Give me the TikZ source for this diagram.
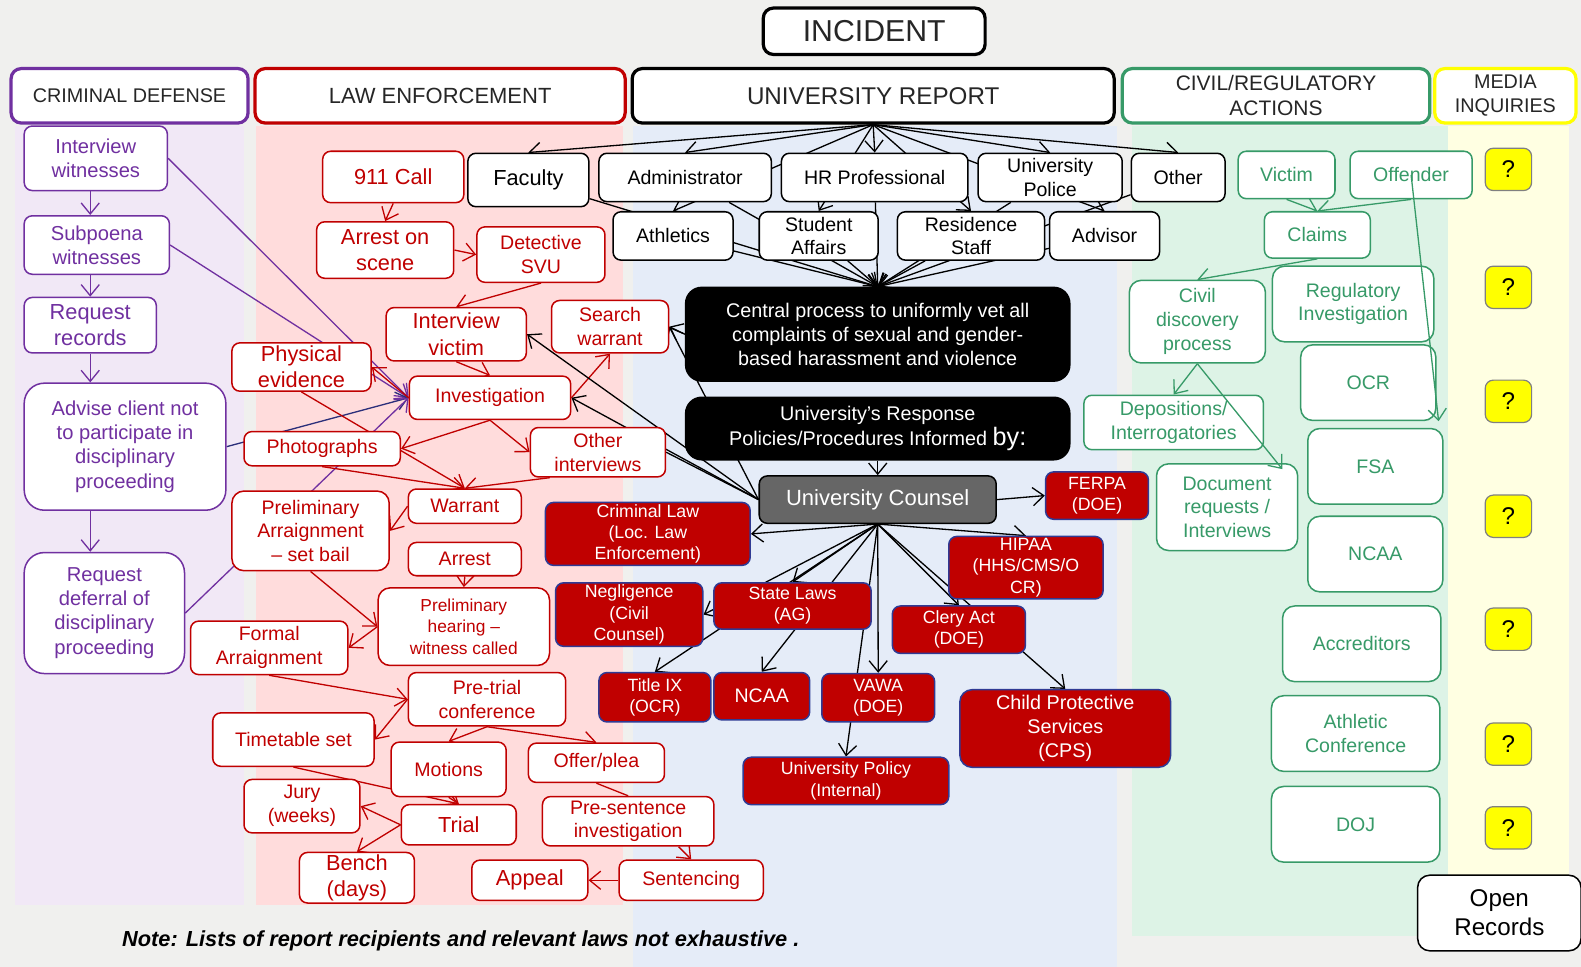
\documentclass[tikz,border=0pt]{standalone}
\usepackage{fontspec}
\setmainfont{Liberation Sans}
\usetikzlibrary{arrows.meta}

\definecolor{pagegray}{HTML}{F0F0EE}
\definecolor{cdpurple}{HTML}{7030A0}
\definecolor{cdnavy}{HTML}{2B2F7A}
\definecolor{lered}{HTML}{C00000}
\definecolor{lawred}{HTML}{C00000}
\definecolor{lawblue}{HTML}{2F3A94}
\definecolor{crgreen}{HTML}{379A68}
\definecolor{ucgray}{HTML}{666666}
\definecolor{cdback}{HTML}{F1E8F6}
\definecolor{leback}{HTML}{FFDCDC}
\definecolor{urback}{HTML}{E5ECF8}
\definecolor{crback}{HTML}{DDF3E6}
\definecolor{miback}{HTML}{FFFFE2}
\definecolor{hdyellow}{HTML}{FFFF00}

\pgfdeclarelayer{bg}
\pgfdeclarelayer{edges}
\pgfsetlayers{bg,edges,main}

\tikzset{
  sz/.style 2 args={minimum width=#1*0.5pt, minimum height=#2*0.5pt},
  box/.style={draw, fill=white, rounded corners=4pt, line width=0.75pt,
    align=center, inner sep=1pt, font=\fontsize{9.7}{11.8}\selectfont},
  header/.style={box, line width=1.6pt, rounded corners=5pt, text=black!85},
  cdbox/.style={box, draw=cdpurple, text=cdpurple, font=\fontsize{10}{12}\selectfont},
  lebox/.style={box, draw=lered, text=lered},
  urbox/.style={box, draw=black, text=black},
  blackbox/.style={box, fill=black, text=white, rounded corners=8pt, font=\fontsize{9.8}{12}\selectfont},
  lawbox/.style={box, fill=lawred, draw=lawblue, text=white, font=\fontsize{8.8}{10.5}\selectfont},
  crbox/.style={box, draw=crgreen, text=crgreen},
  qbox/.style={box, fill=hdyellow, draw=gray, line width=0.6pt, font=\fontsize{12}{14}\selectfont},
  big/.style={font=\fontsize{10.8}{13}\selectfont},
  cdline/.style={draw=cdpurple, line width=0.65pt},
  leline/.style={draw=lered, line width=0.65pt},
  urline/.style={draw=black, line width=0.65pt},
  crline/.style={draw=crgreen, line width=0.65pt},
}

\begin{document}
\begin{tikzpicture}[x=0.5pt, y=-0.5pt, >={Straight Barb[length=5.5pt,width=9pt]}]

% column backgrounds
\begin{pgfonlayer}{bg}
  \fill[pagegray] (0,0) rectangle (1568,959);
  \fill[cdback] (15,125) rectangle (242,898);
  \fill[leback] (254,125) rectangle (618,898);
  \fill[urback] (628,125) rectangle (1108,959);
  \fill[crback] (1123,125) rectangle (1436,928);
  \fill[miback] (1436,125) rectangle (1556,935);
\end{pgfonlayer}
\useasboundingbox (0,0) rectangle (1568,959);

% headers
\node[header, sz={220}{46}, font=\fontsize{15}{18}\selectfont] (incident) at (867,31) {INCIDENT};
\node[header, sz={235}{54}, draw=cdpurple, font=\fontsize{9.8}{12}\selectfont] (hdCD) at (128.5,95) {CRIMINAL DEFENSE};
\node[header, sz={367}{54}, draw=lered, font=\fontsize{10.9}{13}\selectfont] (hdLE) at (436.5,95) {LAW ENFORCEMENT};
\node[header, sz={478}{54}, font=\fontsize{12}{14}\selectfont] (hdUR) at (866,95) {UNIVERSITY REPORT};
\node[header, sz={305}{54}, draw=crgreen, font=\fontsize{10.4}{12.5}\selectfont] (hdCR) at (1265.5,95) {CIVIL/REGULATORY\\ACTIONS};
\node[header, sz={140}{54}, draw=hdyellow, font=\fontsize{9.8}{12}\selectfont] (hdMI) at (1493,95) {MEDIA\\INQUIRIES};

% criminal defense
\node[cdbox, sz={142}{64}] (cdIW) at (95,157) {Interview\\witnesses};
\node[cdbox, sz={144}{58}] (cdSW) at (96,243) {Subpoena\\witnesses};
\node[cdbox, sz={131}{55}, font=\fontsize{10.8}{13}\selectfont] (cdRR) at (89.5,322.5) {Request\\records};
\node[cdbox, sz={200}{126}, rounded corners=10pt] (cdAC) at (124,443) {Advise client not\\to participate in\\disciplinary\\proceeding};
\node[cdbox, sz={159}{120}, rounded corners=10pt] (cdRD) at (103.5,608) {Request\\deferral of\\disciplinary\\proceeding};

% law enforcement
\node[lebox, big, sz={140}{51}] (le911) at (390,175.5) {911 Call};
\node[lebox, big, sz={136}{56}] (leAS) at (382,248) {Arrest on\\scene};
\node[lebox, sz={127}{55}] (leDS) at (536.5,252.5) {Detective\\SVU};
\node[lebox, big, sz={139}{53}] (leIV) at (452.5,331.5) {Interview\\victim};
\node[lebox, sz={116}{52}] (leSW) at (605,324) {Search\\warrant};
\node[lebox, big, sz={138}{48}] (lePE) at (299,364) {Physical\\evidence};
\node[lebox, sz={160}{43}] (leIN) at (486,394.5) {Investigation};
\node[lebox, sz={155}{34}] (lePH) at (319.5,445) {Photographs};
\node[lebox, sz={134}{49}] (leOI) at (593,448.5) {Other\\interviews};
\node[lebox, sz={156}{79}, rounded corners=6pt] (lePA) at (308,526.5) {Preliminary\\Arraignment\\-- set bail};
\node[lebox, sz={112}{34}] (leWA) at (461,502) {Warrant};
\node[lebox, sz={112}{33}] (leAR) at (461,554.5) {Arrest};
\node[lebox, sz={170}{77}, rounded corners=6pt, font=\fontsize{8.6}{10.6}\selectfont] (lePHW) at (460,621.5) {Preliminary\\hearing --\\witness called};
\node[lebox, sz={156}{53}] (leFA) at (267,642.5) {Formal\\Arraignment};
\node[lebox, sz={156}{53}] (lePT) at (483,693.5) {Pre-trial\\conference};
\node[lebox, sz={160}{53}] (leTS) at (291,733.5) {Timetable set};
\node[lebox, sz={114}{54}] (leMO) at (445,763) {Motions};
\node[lebox, sz={135}{39}] (leOP) at (591.5,756.5) {Offer/plea};
\node[lebox, sz={115}{53}] (leJU) at (299.5,799.5) {Jury\\(weeks)};
\node[lebox, big, sz={114}{40}] (leTR) at (455,818) {Trial};
\node[lebox, sz={170}{49}] (lePS) at (623,814.5) {Pre-sentence\\investigation};
\node[lebox, big, sz={114}{45}] (leBE) at (354,870.5) {Bench\\(days)};
\node[lebox, big, sz={115}{40}] (leAP) at (525.5,873) {Appeal};
\node[lebox, sz={143}{40}] (leSE) at (685.5,873) {Sentencing};

% university report recipients
\node[urbox, big, sz={120}{53}] (urFA) at (524,178.5) {Faculty};
\node[urbox, sz={171}{48}] (urAD) at (679.5,176) {Administrator};
\node[urbox, sz={185}{48}] (urHR) at (867.5,176) {HR Professional};
\node[urbox, sz={143}{48}] (urUP) at (1041.5,176) {University\\Police};
\node[urbox, sz={93}{48}] (urOT) at (1168.5,176) {Other};
\node[urbox, sz={119}{48}] (urAT) at (667.5,234) {Athletics};
\node[urbox, sz={118}{48}] (urSA) at (812,234) {Student\\Affairs};
\node[urbox, sz={146}{48}] (urRS) at (963,234) {Residence\\Staff};
\node[urbox, sz={109}{48}] (urAV) at (1095.5,234) {Advisor};

\node[blackbox, sz={381}{93}] (central) at (870.5,331.5) {Central process to uniformly vet all\\complaints of sexual and gender-\\based harassment and violence};
\node[blackbox, sz={381}{62}] (response) at (870.5,425) {University's Response\\Policies/Procedures Informed {\fontsize{12.5}{12}\selectfont by:}};
\node[box, fill=ucgray, text=white, sz={235}{47}, font=\fontsize{10.9}{13}\selectfont] (counsel) at (870.5,495.5) {University Counsel};

% relevant laws
\node[lawbox, sz={102}{47}] (lwFE) at (1088,491.5) {FERPA\\(DOE)};
\node[lawbox, sz={203}{61}] (lwCL) at (642.5,529.5) {Criminal Law\\(Loc. Law\\Enforcement)};
\node[lawbox, sz={153}{62}] (lwHI) at (1017.5,563) {HIPAA\\(HHS/CMS/O\\CR)};
\node[lawbox, sz={146}{63}] (lwNE) at (624,609.5) {Negligence\\(Civil\\Counsel)};
\node[lawbox, sz={156}{46}] (lwSL) at (786,601) {State Laws\\(AG)};
\node[lawbox, sz={132}{47}] (lwCA) at (951,624.5) {Clery Act\\(DOE)};
\node[lawbox, sz={111}{49}] (lwT9) at (649.5,691.5) {Title IX\\(OCR)};
\node[lawbox, sz={95}{47}, font=\fontsize{9.7}{11.8}\selectfont] (lwNC) at (755.5,690.5) {NCAA};
\node[lawbox, sz={112}{48}] (lwVA) at (871,692) {VAWA\\(DOE)};
\node[lawbox, sz={209}{77}, rounded corners=6pt, font=\fontsize{9.8}{11.8}\selectfont] (lwCP) at (1056.5,722.5) {Child Protective\\Services\\(CPS)};
\node[lawbox, sz={204}{47}] (lwUP) at (839,774.5) {University Policy\\(Internal)};

% civil / regulatory
\node[crbox, sz={96}{47}] (crVI) at (1276,173.5) {Victim};
\node[crbox, sz={121}{47}] (crOF) at (1399.5,173.5) {Offender};
\node[crbox, sz={105}{46}] (crCL) at (1306.5,233) {Claims};
\node[crbox, sz={135}{82}, rounded corners=6pt] (crCD) at (1187.5,319) {Civil\\discovery\\process};
\node[crbox, sz={160}{75}, rounded corners=6pt] (crRI) at (1342,301.5) {Regulatory\\Investigation};
\node[crbox, sz={134}{75}, rounded corners=6pt] (crOC) at (1357,379.5) {OCR};
\node[crbox, sz={178}{54}] (crDI) at (1164,419) {Depositions/\\Interrogatories};
\node[crbox, sz={134}{75}, rounded corners=6pt] (crFS) at (1364,462.5) {FSA};
\node[crbox, sz={140}{86}, rounded corners=6pt] (crDR) at (1217,503) {Document\\requests /\\Interviews};
\node[crbox, sz={134}{75}, rounded corners=6pt] (crNC) at (1364,549.5) {NCAA};
\node[crbox, sz={157}{75}, rounded corners=6pt] (crAC) at (1350.5,638.5) {Accreditors};
\node[crbox, sz={167}{75}, rounded corners=6pt] (crAT) at (1344.5,727.5) {Athletic\\Conference};
\node[crbox, sz={167}{75}, rounded corners=6pt] (crDO) at (1344.5,817.5) {DOJ};

% media inquiries
\foreach \y [count=\i] in {168,285,398,512,624,738,821}
  \node[qbox, sz={46}{42}] (q\i) at (1496,\y) {?};
\node[box, sz={162}{75}, rounded corners=6pt, font=\fontsize{12}{14.5}\selectfont] (openrec) at (1487,905.5) {Open\\Records};

\node[font=\fontsize{10.8}{13}\selectfont\bfseries\itshape] (note) at (457,933) {Note: Lists of report recipients and relevant laws not exhaustive .};

\begin{pgfonlayer}{edges}
  % criminal defense
  \draw[cdline,->] (cdIW.south -| cdRR) -- (cdSW.north -| cdRR);
  \draw[cdline,->] (cdSW.south -| cdRR) -- (cdRR.north);
  \draw[cdline,->] (cdRR.south) -- (cdAC.north -| cdRR);
  \draw[cdline,->] (cdAC.south -| cdRR) -- (cdRD.north -| cdRR);
  \draw[cdline,->] (cdIW.east) -- (leIN.west);
  \draw[cdline,->] (cdSW.east) -- (leIN.west);
  \draw[cdline,draw=cdnavy,->] (cdAC.east) -- (leIN.west);
  \draw[cdline,->] (cdRD.east) -- (leIN.west);

  % law enforcement
  \draw[leline,->] (le911.south) -- (leAS.north);
  \draw[leline,->] (leAS.east) -- (leDS.west);
  \draw[leline,->] (leDS.south) -- (leIV.north);
  \draw[leline,->] (leIV.south) -- (leIN.north);
  \draw[leline,->] (leIN.east) -- (leSW.south);
  \draw[leline,->] (leIN.west) -- (lePE.east);
  \draw[leline,->] (leIN.south) -- (lePH.east);
  \draw[leline,->] (leIN.south) -- (leOI.west);
  \draw[leline,->] (lePE.south) -- (leWA.north);
  \draw[leline,->] (lePH.south) -- (leWA.north);
  \draw[leline,->] ([xshift=10pt]leOI.south west) -- (leWA.north);
  \draw[leline,->] (leWA.west) -- (lePA.east);
  \draw[leline,->] (leAR.south) -- (lePHW.north);
  \draw[leline,->] (lePA.south) -- (lePHW.west);
  \draw[leline,->] (lePHW.west) -- (leFA.east);
  \draw[leline,->] (leFA.south) -- (lePT.west);
  \draw[leline,->] (lePT.west) -- (leTS.east);
  \draw[leline,->] (lePT.south) -- (leMO.north);
  \draw[leline,->] (lePT.south) -- (leOP.north);
  \draw[leline,->] (leTS.south) -- (leTR.north);
  \draw[leline,->] (leMO.south) -- (leTR.north);
  \draw[leline,->] (leTR.west) -- (leJU.east);
  \draw[leline,->] (leTR.west) -- (leBE.north);
  \draw[leline] (leOP.south) -- (lePS.north);
  \draw[leline,->] ([xshift=25pt]lePS.south) -- (leSE.north);
  \draw[leline,->] (leSE.west) -- (leAP.east);

  % university report
  \foreach \n in {urFA,urAD,urHR,urUP,urOT,urAT,urSA,urRS,urAV} {
    \draw[urline,->] (hdUR.south) -- (\n.north);
    \draw[urline,->] (\n) -- (central.north);
  }
  \draw[urline,->] (response.south) -- (counsel.north);
  \draw[urline,->] (central.west) -- (leSW.east);
  \draw[urline,->] (counsel.west) -- (leSW.east);
  \draw[urline,->] (counsel.west) -- (leIV.east);
  \draw[urline,->] (counsel.west) -- (leIN.east);
  \draw[urline] (counsel.west) -- (leOI.east);
  \draw[urline,->] (counsel.east) -- (lwFE.west);
  \foreach \n/\a in {lwCL/east,lwNE/east,lwSL/north,lwT9/north,lwNC/north,
                     lwVA/north,lwUP/north,lwCA/north,lwCP/north,lwHI/north}
    \draw[urline,->] (counsel.south) -- (\n.\a);

  % civil / regulatory
  \draw[crline,->] (crVI.south) -- (crCL.north);
  \draw[crline,->] (crOF.south) -- (crCL.north);
  \draw[crline,->] (crCL.south) -- (crCD.north);
  \draw[crline,->] (crCD.south) -- (crDI.north);
\end{pgfonlayer}
\draw[crline,->] (crCD.south) -- ([xshift=-8pt,yshift=-3pt]crDR.north east);
\draw[crline,->] (crOF.center) -- ([xshift=1pt]crOC.south east);

\end{tikzpicture}
\end{document}
